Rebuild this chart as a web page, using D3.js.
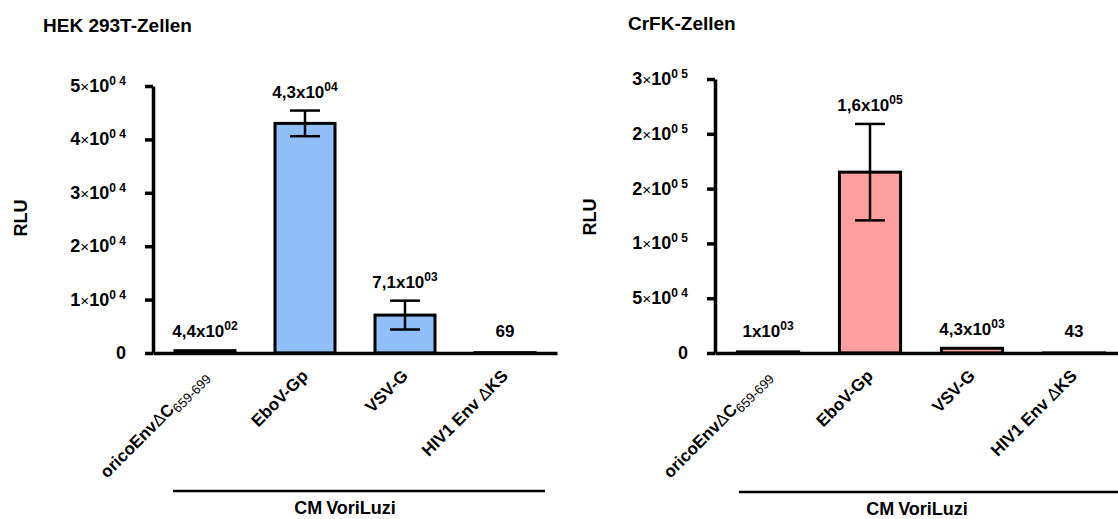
<!DOCTYPE html>
<html>
<head>
<meta charset="utf-8">
<script src="https://cdn.jsdelivr.net/npm/d3@7"></script>
<style>
  body { margin: 0; background: #fff; }
  text { font-family: 'Liberation Sans', Arial, sans-serif; font-weight: bold; fill: #000; }
</style>
</head>
<body>
<script>
// DATA
var categories = ["oricoEnvΔC659-699", "EboV-Gp", "VSV-G", "HIV1 Env ΔKS"];
var groupName = "CMVoriLuzi";

var hekValues = [440, 43000, 7100, 69];
var hekErrors = [0, 2400, 2700, 0];
var hekLabels = ["4,4x10^02", "4,3x10^04", "7,1x10^03", "69"];
var hekTicks = [0, 10000, 20000, 30000, 40000, 50000];
var hekTickLabels = ["0", "1×10^0 4", "2×10^0 4", "3×10^0 4", "4×10^0 4", "5×10^0 4"];

var crfkValues = [1000, 165000, 4300, 43];
var crfkErrors = [0, 44000, 0, 0];
var crfkLabels = ["1x10^03", "1,6x10^05", "4,3x10^03", "43"];
var crfkTicks = [0, 50000, 100000, 150000, 200000, 250000];
var crfkTickLabels = ["0", "5×10^0 4", "1×10^0 5", "2×10^0 5", "2×10^0 5", "3×10^0 5"];

// LAYOUT
var W = 1118, H = 519;
var panels = [
    { title: "HEK 293T-Zellen", values: hekValues, errors: hekErrors, labels: hekLabels,
      ticks: hekTicks, tickLabels: hekTickLabels, color: "#90bff9",
      axisX: 153, axisEnd: 557, yTop: 86, titleX: 43, titleY: 32, rluX: 21, rluY: 218,
      bx0: 173, bx1: 545, bracketY: 491, groupX: 345, groupY: 514 },
    { title: "CrFK-Zellen", values: crfkValues, errors: crfkErrors, labels: crfkLabels,
      ticks: crfkTicks, tickLabels: crfkTickLabels, color: "#ff9f9f",
      axisX: 715, axisEnd: 1127, yTop: 79, titleX: 628, titleY: 30, rluX: 590, rluY: 217,
      bx0: 739, bx1: 1125, bracketY: 492, groupX: 917, groupY: 515 }
];
var y0 = 353;

const svg = d3.select("body").append("svg")
    .attr("width", W)
    .attr("height", H);

// text like "4,3x10^04" -> base + superscript
function sciText(sel, str, supSize, supDy) {
    var parts = str.split("^");
    var base = parts[0];
    if (base.indexOf("×") >= 0) {
        var b = base.split("×");
        sel.append("tspan").text(b[0]);
        sel.append("tspan").attr("font-weight", "normal").attr("font-size", "0.85em").text("×");
        sel.append("tspan").text(b[1]);
    } else {
        sel.append("tspan").text(base);
    }
    if (parts.length > 1) {
        sel.append("tspan")
            .attr("dy", -supDy)
            .attr("font-size", supSize)
            .text(parts[1]);
    }
}

// category label with Δ in normal weight and subscript residues
function catText(sel, str) {
    var m = str.match(/^(.*?)(Δ)(.*?)(\d{3}-\d{3})?$/);
    if (!m) { sel.text(str); return; }
    sel.append("tspan").text(m[1]);
    sel.append("tspan").attr("font-weight", "normal").text(m[2]);
    sel.append("tspan").text(m[3]);
    if (m[4]) {
        sel.append("tspan").attr("font-weight", "normal").attr("font-size", 13).attr("dy", 4).text(m[4]);
    }
}

panels.forEach(function (p) {
    var g = svg.append("g");

    var x = d3.scaleBand()
        .domain(categories)
        .range([p.axisX, p.axisEnd])
        .paddingInner(0.4)
        .paddingOuter(0.22);

    var y = d3.scaleLinear()
        .domain([0, p.ticks[p.ticks.length - 1]])
        .range([y0, p.yTop]);

    // title
    g.append("text")
        .attr("x", p.titleX)
        .attr("y", p.titleY)
        .attr("font-size", 19)
        .text(p.title);

    // RLU
    g.append("text")
        .attr("transform", "translate(" + (p.rluX + 6) + "," + p.rluY + ") rotate(-90)")
        .attr("text-anchor", "middle")
        .attr("font-size", 18)
        .text("RLU");

    // bars
    var data = categories.map(function (c, i) {
        return { c: c, v: p.values[i], e: p.errors[i], label: p.labels[i] };
    });

    g.append("g").selectAll("rect")
        .data(data)
        .join("rect")
        .attr("x", d => x(d.c))
        .attr("width", x.bandwidth())
        .attr("y", d => y(d.v))
        .attr("height", d => y0 - y(d.v))
        .attr("fill", p.color)
        .attr("stroke", "#000")
        .attr("stroke-width", 3);

    // error bars
    var err = g.append("g").selectAll("g")
        .data(data.filter(d => d.e > 0))
        .join("g")
        .attr("stroke", "#000")
        .attr("stroke-width", 2.5);
    err.append("line")
        .attr("x1", d => x(d.c) + x.bandwidth() / 2)
        .attr("x2", d => x(d.c) + x.bandwidth() / 2)
        .attr("y1", d => y(d.v - d.e))
        .attr("y2", d => y(d.v + d.e));
    err.append("line")
        .attr("x1", d => x(d.c) + x.bandwidth() / 2 - 15)
        .attr("x2", d => x(d.c) + x.bandwidth() / 2 + 15)
        .attr("y1", d => y(d.v + d.e))
        .attr("y2", d => y(d.v + d.e));
    err.append("line")
        .attr("x1", d => x(d.c) + x.bandwidth() / 2 - 15)
        .attr("x2", d => x(d.c) + x.bandwidth() / 2 + 15)
        .attr("y1", d => y(d.v - d.e))
        .attr("y2", d => y(d.v - d.e));

    // value labels
    g.append("g").selectAll("text")
        .data(data)
        .join("text")
        .attr("x", d => x(d.c) + x.bandwidth() / 2)
        .attr("y", d => Math.min(y(d.v + d.e) - 13, y0 - 16))
        .attr("text-anchor", "middle")
        .attr("font-size", 17)
        .each(function (d) { sciText(d3.select(this), d.label, 12, 7); });

    // y axis
    var yAxis = g.append("g")
        .attr("transform", "translate(" + p.axisX + ",0)")
        .call(d3.axisLeft(y).tickValues(p.ticks).tickFormat("").tickSize(8).tickSizeOuter(0));
    yAxis.select(".domain").attr("stroke-width", 3.5);
    yAxis.selectAll(".tick line").attr("stroke-width", 3.5);

    g.append("g").selectAll("text")
        .data(p.ticks)
        .join("text")
        .attr("x", p.axisX - 27)
        .attr("y", d => y(d) + 6)
        .attr("text-anchor", "end")
        .attr("font-size", 18)
        .each(function (d, i) { sciText(d3.select(this), p.tickLabels[i], 12, 7); });

    // x axis
    var xAxis = g.append("g")
        .attr("transform", "translate(0," + y0 + ")")
        .call(d3.axisBottom(x).tickSize(0).tickFormat(""));
    xAxis.select(".domain").attr("stroke-width", 3.5);

    g.append("g").selectAll("text")
        .data(categories)
        .join("text")
        .attr("transform", d => "translate(" + (x(d) + x.bandwidth() / 2 + 4) + "," + (y0 + 24) + ") rotate(-45)")
        .attr("text-anchor", "end")
        .attr("font-size", 17)
        .each(function (d) { catText(d3.select(this), d); });

    // group bracket
    g.append("line")
        .attr("x1", p.bx0).attr("x2", p.bx1)
        .attr("y1", p.bracketY).attr("y2", p.bracketY)
        .attr("stroke", "#000")
        .attr("stroke-width", 2.5);

    var gl = g.append("text")
        .attr("x", p.groupX)
        .attr("y", p.groupY)
        .attr("text-anchor", "middle")
        .attr("font-size", 18);
    gl.append("tspan").text(groupName.slice(0, 2));
    gl.append("tspan").attr("dx", 4).text(groupName.slice(2));
});
</script>
</body>
</html>
